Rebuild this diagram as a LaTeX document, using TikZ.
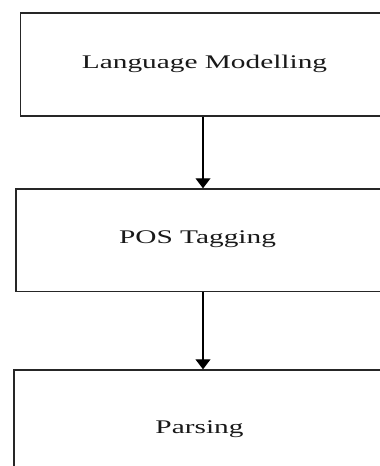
\documentclass[tikz,border=0pt]{standalone}
\usepackage{fontspec}
\setmainfont{Liberation Serif}
\usetikzlibrary{arrows.meta}
\begin{document}
\begin{tikzpicture}[x=1pt,y=1pt,
  box/.style={draw=black!85,line width=1.4pt,minimum width=#1,inner sep=0pt,rectangle},
  lbl/.style={font=\fontsize{19.3}{21}\selectfont,inner sep=0pt,anchor=base,text=black!90},
  conn/.style={line width=1.1pt,-{Triangle[length=10pt,width=15pt]}}]
\useasboundingbox (0,0) rectangle (380,-466);
\clip (0,0) rectangle (380,-466);
\fill[white] (0,0) rectangle (380,-466);
\node[box=365.5pt,minimum height=103pt] (b1) at (203.25,-64.5) {};
\node[box=374pt,minimum height=102.7pt] (b2) at (203,-240.3) {};
\node[box=378pt,minimum height=110pt] (b3) at (203,-425) {};
\node[lbl] (t1) at (204.5,-68) {\scalebox{1.52}[1]{Language Modelling}};
\node[lbl] (t2) at (197.5,-243.3) {\scalebox{1.52}[1]{POS Tagging}};
\node[lbl] (t3) at (199.5,-433) {\scalebox{1.52}[1]{Parsing}};
\draw[conn] (b1.south -| 203,0) -- (b2.north -| 203,0);
\draw[conn] (b2.south -| 203,0) -- (b3.north -| 203,0);
\end{tikzpicture}
\end{document}
